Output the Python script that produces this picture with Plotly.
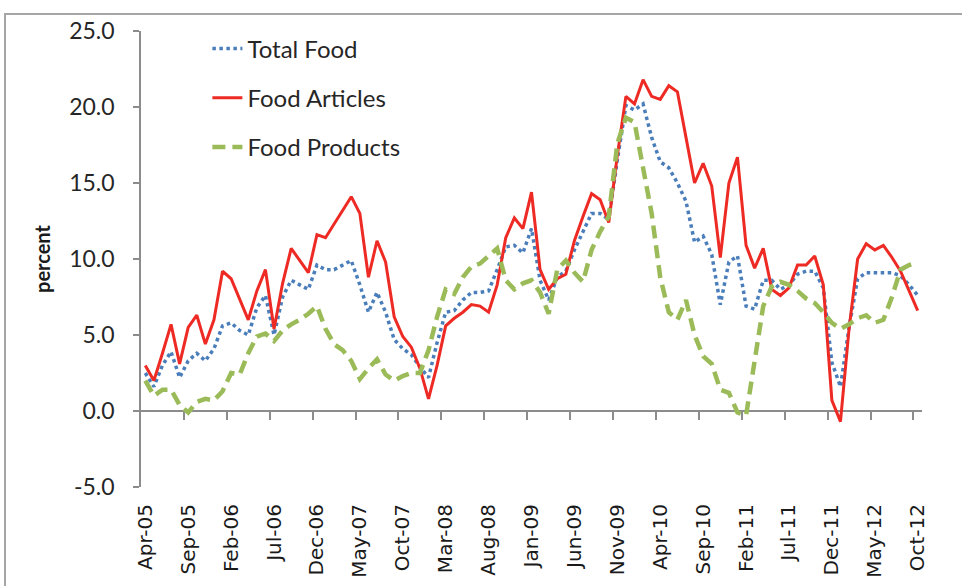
import pandas as pd
import plotly.graph_objects as go

# monthly, Apr-05 .. Oct-12
months = pd.date_range("2005-04-01", periods=91, freq="MS").strftime("%b-%y").tolist()

total_food = [
    2.5, 1.6, 3.0, 3.9, 2.2, 3.3, 3.8, 3.3, 4.1, 5.6,
    5.8, 5.3, 5.0, 6.8, 7.6, 5.0, 7.5, 8.6, 8.3, 8.0,
    9.6, 9.3, 9.3, 9.6, 9.9, 8.3, 6.5, 7.8, 6.5, 4.7,
    4.1, 3.7, 2.9, 2.2, 4.5, 6.5, 6.6, 7.3, 7.8, 7.8,
    7.9, 9.3, 10.8, 10.9, 10.4, 12.0, 8.6, 7.3, 8.8, 9.2,
    10.6, 11.8, 13.0, 13.0, 12.6, 16.5, 20.1, 19.8, 20.2, 18.0,
    16.4, 16.0, 15.0, 13.8, 11.1, 11.5, 10.3, 7.0, 9.8, 10.2,
    6.9, 6.7, 8.6, 8.6, 8.0, 8.3, 9.0, 9.2, 9.2, 8.1,
    3.2, 1.6, 5.5, 8.7, 9.1, 9.1, 9.1, 9.1, 8.9, 8.3,
    7.6,
]

food_articles = [
    3.0, 2.0, 3.8, 5.7, 3.1, 5.5, 6.3, 4.4, 6.0, 9.2,
    8.7, 7.3, 6.0, 7.9, 9.3, 5.4, 8.4, 10.7, 9.9, 9.1,
    11.6, 11.4, 12.3, 13.2, 14.1, 13.0, 8.8, 11.2, 9.8, 6.2,
    4.9, 4.2, 2.8, 0.8, 3.0, 5.6, 6.1, 6.5, 7.0, 6.9,
    6.5, 8.3, 11.4, 12.7, 12.0, 14.4, 9.3, 8.0, 8.7, 9.0,
    11.2, 12.8, 14.3, 13.9, 12.4, 16.8, 20.7, 20.2, 21.8, 20.7,
    20.5, 21.4, 21.0, 18.0, 15.0, 16.3, 14.8, 10.1, 15.0, 16.7,
    10.9, 9.4, 10.7, 8.0, 7.6, 8.1, 9.6, 9.6, 10.2, 8.3,
    0.7, -0.7, 5.4, 10.0, 11.0, 10.6, 10.9, 10.1, 9.2, 7.9,
    6.6,
]

food_products = [
    2.0, 1.0, 1.4, 1.4, 0.4, -0.1, 0.6, 0.8, 0.7, 1.3,
    2.5, 2.4, 3.8, 4.9, 5.1, 4.6, 5.3, 5.7, 6.0, 6.4,
    6.9, 5.4, 4.4, 4.0, 3.3, 2.1, 2.8, 3.4, 2.4, 2.0,
    2.3, 2.5, 2.5, 4.0, 6.2, 8.0, 7.7, 8.8, 9.5, 9.7,
    10.2, 10.7, 8.6, 8.0, 8.4, 8.6, 7.8, 6.4, 9.3, 9.9,
    9.1, 8.5, 10.6, 11.8, 12.8, 17.6, 19.3, 19.0, 16.0, 13.0,
    8.8, 6.5, 6.0, 7.3, 5.0, 3.6, 3.1, 1.4, 1.2, -0.1,
    -0.3, 3.4, 6.9, 8.2, 8.5, 8.3, 7.9, 7.4, 7.1, 6.5,
    5.8, 5.4, 5.7, 6.1, 6.3, 5.8, 6.0, 7.5, 9.3, 9.6,
    9.8,
]

y_ticks = [-5, 0, 5, 10, 15, 20, 25]

idx = list(range(len(months)))
tick_pos = idx[::5]
tick_labels = months[::5]
boundary_ticks = [p + 4.5 for p in tick_pos[:-1]]

fig = go.Figure()
fig.add_trace(go.Scatter(
    x=idx, y=total_food, name="Total Food", mode="lines",
    line=dict(color="#4a7ebb", width=3.5, dash="dot"),
    legendgroup="a",
))
fig.add_trace(go.Scatter(
    x=idx, y=food_articles, name="Food Articles", mode="lines",
    line=dict(color="#ee2a24", width=3),
    legendgroup="b",
))
fig.add_trace(go.Scatter(
    x=idx, y=food_products, name="Food Products", mode="lines",
    line=dict(color="#9bbb59", width=4.5, dash="13px,7px"),
    legendgroup="c", xaxis="x2",
))

axis_gray = "#8c8c8c"
xr = [-0.5, len(months) - 0.5]

fig.update_layout(
    width=962, height=586,
    margin=dict(l=141, r=40, t=31, b=99),
    plot_bgcolor="white", paper_bgcolor="white",
    showlegend=True,
    legend=dict(
        x=0.085, y=1.01, xanchor="left", yanchor="top",
        font=dict(family="Lato, Open Sans, sans-serif", size=24, color="#262626"),
        traceorder="grouped", tracegroupgap=15,
        bgcolor="rgba(0,0,0,0)",
    ),
    xaxis=dict(
        range=xr, tickmode="array", tickvals=tick_pos, ticktext=tick_labels,
        tickangle=-90, ticks="", showline=False, showgrid=False, zeroline=False,
        ticklabelstandoff=12, automargin=False,
        tickfont=dict(family="DejaVu Sans, Verdana, sans-serif", size=20, color="#1a1a1a"),
    ),
    xaxis2=dict(
        range=xr, overlaying="x", anchor="free", position=5 / 30,
        tickmode="array", tickvals=boundary_ticks, ticks="outside", ticklen=8,
        tickcolor=axis_gray, tickwidth=1.5, automargin=False,
        showticklabels=False, showline=False, showgrid=False, zeroline=False,
    ),
    yaxis=dict(
        range=[-5, 25], tickmode="array", tickvals=y_ticks,
        ticktext=["%.1f" % v for v in y_ticks],
        ticks="outside", ticklen=6, tickcolor=axis_gray, tickwidth=1.5,
        ticklabelstandoff=14, automargin=False,
        showline=True, linecolor=axis_gray, linewidth=1.5,
        showgrid=False, zeroline=True, zerolinecolor=axis_gray, zerolinewidth=1.5,
        tickfont=dict(family="Lato, Open Sans, sans-serif", size=23, color="#262626"),
        title=dict(text="<b>percent</b>", standoff=13,
                   font=dict(family="Lato, Open Sans, sans-serif", size=20, color="#1a1a1a")),
    ),
    shapes=[dict(
        type="rect", xref="paper", yref="paper",
        x0=(5 - 141) / 781, x1=1.2, y0=-0.5, y1=1 + (31 - 14) / 456,
        line=dict(color="#a6a6a6", width=2), layer="below",
    )],
)

# drop the browser's default 8px body margin so the figure sits at (0, 0)
fig.write_html("out.html", config={"displayModeBar": False},
               post_script="document.body.style.margin='0';")
